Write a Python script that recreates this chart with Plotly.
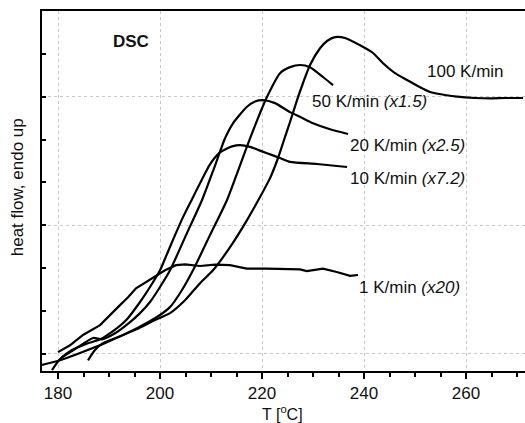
import plotly.graph_objects as go

# ---- data (T in °C, heat flow in arbitrary units, endo up) ----
T_1K = [180.0, 182.35, 184.90, 188.24, 191.76, 193.73, 195.29, 198.04, 200.98, 203.14, 204.90, 207.84,
        210.78, 213.73, 217.0, 220.92, 224.51, 227.45, 228.76, 231.96, 234.65, 237.25, 238.82]
Q_1K = [0.04, 0.20, 0.44, 0.67, 1.09, 1.32, 1.53, 1.74, 1.95, 2.07, 2.09, 2.05,
        2.08, 2.07, 1.99, 1.99, 1.98, 1.97, 1.93, 1.99, 1.91, 1.82, 1.84]

T_10K = [178.82, 180.39, 182.75, 185.49, 188.24, 190.98, 193.53, 196.08, 198.04, 200.0, 201.37, 202.94,
         204.51, 206.27, 207.84, 208.82, 209.80, 210.78, 211.76, 212.75, 214.12, 215.69, 217.65, 219.22,
         220.98, 223.53, 225.49, 230.78, 236.67]
Q_10K = [-0.38, -0.12, 0.09, 0.23, 0.34, 0.55, 0.81, 1.21, 1.56, 1.95, 2.33, 2.77,
         3.19, 3.61, 3.98, 4.21, 4.42, 4.58, 4.70, 4.77, 4.84, 4.87, 4.83, 4.76,
         4.68, 4.57, 4.48, 4.43, 4.36]

T_20K = [180.78, 183.33, 186.86, 188.63, 191.18, 194.12, 196.08, 198.04, 200.0, 201.96, 205.10, 208.24,
         210.59, 212.75, 214.31, 217.0, 218.63, 220.20, 222.55, 225.49, 227.45, 230.0, 233.33, 236.86]
Q_20K = [-0.08, 0.11, 0.37, 0.34, 0.48, 0.74, 0.95, 1.21, 1.56, 1.95, 2.77, 3.59,
         4.33, 5.03, 5.38, 5.76, 5.89, 5.92, 5.85, 5.64, 5.53, 5.38, 5.24, 5.13]

T_50K = [176.86, 180.39, 184.31, 189.61, 195.49, 199.02, 201.96, 204.31, 206.47, 209.80, 213.14, 215.69,
         217.65, 219.61, 220.98, 223.53, 225.49, 227.45, 229.41, 231.96, 233.92]
Q_50K = [-0.26, -0.15, 0.02, 0.27, 0.60, 0.83, 1.09, 1.49, 1.95, 2.77, 3.59, 4.40,
         5.03, 5.62, 6.00, 6.55, 6.69, 6.74, 6.69, 6.46, 6.27]

T_100K = [185.88, 187.25, 188.82, 192.16, 195.49, 199.02, 201.96, 204.90, 207.84, 210.39, 213.73, 217.06,
          219.61, 221.57, 223.14, 224.31, 225.49, 226.86, 228.04, 229.41, 231.37, 232.75, 234.31, 236.27,
          239.22, 241.76, 243.73, 246.08, 248.43, 250.98, 252.94, 255.88, 258.24, 261.76, 264.71, 267.65,
          271.18]
Q_100K = [-0.15, 0.09, 0.25, 0.41, 0.58, 0.79, 0.95, 1.25, 1.65, 1.95, 2.49, 3.12,
          3.66, 4.10, 4.57, 4.99, 5.41, 5.92, 6.32, 6.74, 7.13, 7.30, 7.39, 7.37,
          7.20, 7.02, 6.78, 6.55, 6.39, 6.22, 6.11, 6.04, 6.00, 5.97, 5.96, 5.97,
          5.97]

curve_labels = ["100 K/min", "50 K/min <i>(x1.5)</i>", "20 K/min <i>(x2.5)</i>",
                "10 K/min <i>(x7.2)</i>", "1 K/min <i>(x20)</i>"]
label_T = [251.9, 229.4, 236.9, 236.9, 238.6]
label_Q = [6.60, 5.88, 4.87, 4.10, 1.56]

x_ticks = [180, 200, 220, 240, 260]

FONT = "Liberation Sans, Arial, sans-serif"

fig = go.Figure()
for T, Q, shape in [(T_1K, Q_1K, "linear"), (T_10K, Q_10K, "spline"), (T_20K, Q_20K, "spline"),
                    (T_50K, Q_50K, "spline"), (T_100K, Q_100K, "spline")]:
    fig.add_trace(go.Scatter(x=T, y=Q, mode="lines",
                             line=dict(color="black", width=2.2, shape=shape, smoothing=0.6),
                             showlegend=False, hoverinfo="skip"))

for txt, tx, ty in zip(curve_labels, label_T, label_Q):
    fig.add_annotation(x=tx, y=ty, text=txt, showarrow=False, xanchor="left", yanchor="middle",
                       font=dict(family=FONT, size=17, color="#111"))

fig.add_annotation(x=190.3, y=7.30, text="<b>DSC</b>", showarrow=False, xanchor="left",
                   yanchor="middle", font=dict(family=FONT, size=17, color="#111"))

# axis titles
fig.add_annotation(xref="paper", yref="paper", x=0.498, y=-0.118, text="T [<sup>o</sup>C]",
                   showarrow=False, xanchor="center", yanchor="middle",
                   font=dict(family=FONT, size=16, color="#111"))
fig.add_annotation(xref="paper", yref="paper", x=-0.05, y=0.51, text="heat flow, endo up",
                   showarrow=False, textangle=-90, xanchor="center", yanchor="middle",
                   font=dict(family=FONT, size=17, color="#111"))

fig.update_xaxes(range=[176.86, 271.56], tickmode="array", tickvals=x_ticks,
                 ticktext=[str(v) for v in x_ticks],
                 showline=True, linecolor="black", linewidth=2, mirror=True,
                 ticks="outside", ticklen=6, tickwidth=2, tickcolor="black",
                 showgrid=True, gridcolor="#c8c8c8", gridwidth=1, griddash="dot",
                 zeroline=False,
                 minor=dict(dtick=5, tick0=180, ticks="outside", ticklen=4, tickwidth=2,
                            tickcolor="black", showgrid=False),
                 tickfont=dict(family=FONT, size=17, color="#111"))
fig.update_yaxes(range=[-0.4, 8.0], tick0=0, dtick=3, showticklabels=False,
                 showline=True, linecolor="black", linewidth=2, mirror=False,
                 ticks="inside", ticklen=4, tickwidth=2, tickcolor="black",
                 showgrid=True, gridcolor="#c8c8c8", gridwidth=1, griddash="dot",
                 zeroline=False,
                 minor=dict(dtick=1, tick0=0, ticks="inside", ticklen=4, tickwidth=2,
                            tickcolor="black", showgrid=False))

fig.update_layout(width=525, height=423, margin=dict(l=42, r=0, t=11, b=52),
                  plot_bgcolor="white", paper_bgcolor="white")

fig.write_html("out.html", config={"displayModeBar": False},
               post_script="document.body.style.margin='0';document.body.style.overflow='hidden';")
